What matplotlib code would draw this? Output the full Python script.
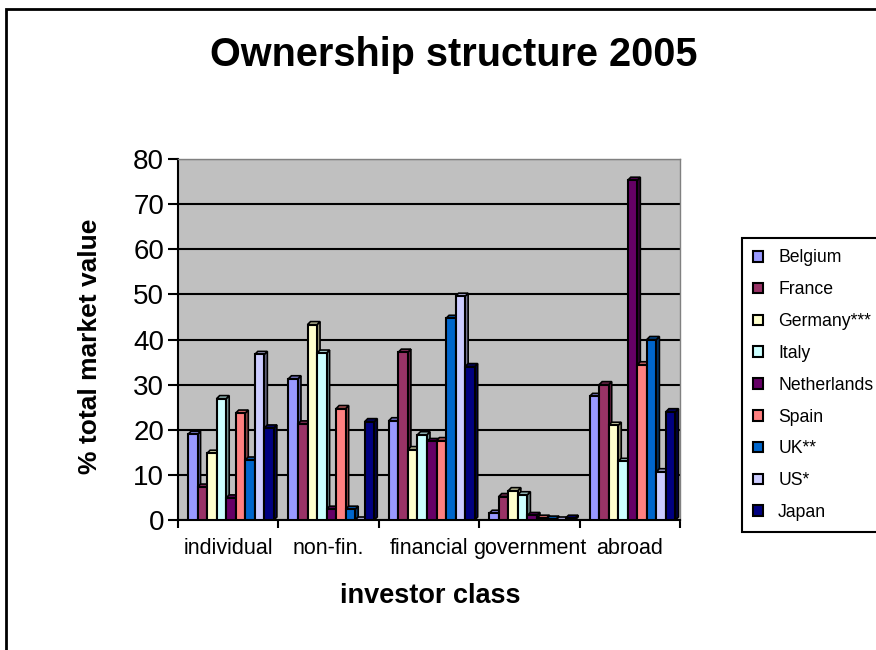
import numpy as np
import matplotlib
matplotlib.use('Agg')
import matplotlib.pyplot as plt
from matplotlib.patches import Polygon, Rectangle, Patch
from matplotlib.colors import to_rgb

plt.rcParams['font.family'] = ['Liberation Sans', 'DejaVu Sans']

# data
categories = ['individual', 'non-fin.', 'financial', 'government', 'abroad']
countries = ['Belgium', 'France', 'Germany***', 'Italy', 'Netherlands',
             'Spain', 'UK**', 'US*', 'Japan']
belgium = [19.0, 31.3, 22.0, 1.5, 27.4]
france = [7.3, 21.3, 37.2, 5.2, 30.0]
germany = [14.8, 43.3, 15.6, 6.5, 21.0]
italy = [26.9, 37.0, 18.9, 5.6, 13.0]
netherlands = [4.9, 2.4, 17.4, 1.0, 75.3]
spain = [23.7, 24.7, 17.6, 0.4, 34.4]
uk = [13.3, 2.4, 44.7, 0.2, 40.0]
us = [36.7, 0.0, 49.6, 0.0, 10.7]
japan = [20.4, 21.8, 34.0, 0.4, 24.0]
series = [belgium, france, germany, italy, netherlands, spain, uk, us, japan]
colors = ['#9999FF', '#993366', '#FFFFCC', '#CCFFFF', '#660066',
          '#FF8080', '#0066CC', '#CCCCFF', '#000080']

W, H = 876, 650
fig = plt.figure(figsize=(W / 100, H / 100), dpi=100)
ax_l, ax_r, ax_t, ax_b = 178, 680, 159, 520
ax = fig.add_axes([ax_l / W, 1 - ax_b / H, (ax_r - ax_l) / W, (ax_b - ax_t) / H])
ax.set_facecolor('#C0C0C0')
ax.set_xlim(0, 5)
ax.set_ylim(0, 80)

# pseudo 3D depth of the columns
dx = 3 / ((ax_r - ax_l) / 5)
dy = 3 / ((ax_b - ax_t) / 80)
bw = 0.095
for j, (vals, col) in enumerate(zip(series, colors)):
    xs = np.arange(5) + 0.1 + bw * j
    z = 3 + j
    ax.bar(xs, vals, width=bw, align='edge', color=col, edgecolor='black',
           linewidth=1.5, zorder=z + 0.5)
    c = np.array(to_rgb(col))
    for x0, h in zip(xs, vals):
        side = Polygon([(x0 + bw, 0), (x0 + bw + dx, dy), (x0 + bw + dx, h + dy), (x0 + bw, h)],
                       closed=True, facecolor=c * 0.6, edgecolor='black', linewidth=1.2, zorder=z)
        top = Polygon([(x0, h), (x0 + dx, h + dy), (x0 + bw + dx, h + dy), (x0 + bw, h)],
                      closed=True, facecolor=c * 0.8, edgecolor='black', linewidth=1.2, zorder=z)
        ax.add_patch(side)
        ax.add_patch(top)

ax.set_yticks(np.arange(0, 81, 10))
ax.yaxis.grid(True, color='black', linewidth=1.5, zorder=1)
ax.set_axisbelow(True)
ax.tick_params(axis='y', labelsize=20, length=7, width=1.5, pad=3, direction='out')

ax.set_xticks(np.arange(6))
ax.set_xticklabels([''] * 6)
ax.set_xticks(np.arange(5) + 0.5, minor=True)
ax.set_xticklabels(categories, minor=True)
ax.tick_params(axis='x', which='major', length=6, width=1.5, direction='out')
ax.tick_params(axis='x', which='minor', length=0, labelsize=15.5, pad=13)

for s in ['top', 'right']:
    ax.spines[s].set_color('#808080')
    ax.spines[s].set_linewidth(1.0)
ax.spines['left'].set_linewidth(1.5)
ax.spines['bottom'].set_linewidth(1.5)

ax.set_xlabel('investor class', fontsize=19.5, fontweight='bold')
ax.xaxis.set_label_coords(0.503, -0.175)
ax.set_ylabel('% total market value', fontsize=19, fontweight='bold')
ax.yaxis.set_label_coords(-0.152, 0.48)

fig.text(454 / W, 1 - 66 / H, 'Ownership structure 2005', ha='center', va='baseline',
         fontsize=28.5, fontweight='bold')

handles = [Patch(facecolor=c, edgecolor='black', linewidth=1.5) for c in colors]
leg = fig.legend(handles, countries, loc='upper left',
                 bbox_to_anchor=(742 / W, 1 - 238 / H), fontsize=12.7,
                 frameon=True, fancybox=False, framealpha=1, edgecolor='black',
                 handlelength=0.55, handleheight=0.55, handletextpad=0.85,
                 labelspacing=0.84, borderpad=0.65, borderaxespad=0)
leg.get_frame().set_linewidth(1.5)

border = Rectangle((6 / W, -0.1), 1.0, 1.1 - 9 / H, transform=fig.transFigure,
                   fill=False, edgecolor='black', linewidth=2.0)
fig.patches.append(border)

fig.savefig('out.png', dpi=100)
